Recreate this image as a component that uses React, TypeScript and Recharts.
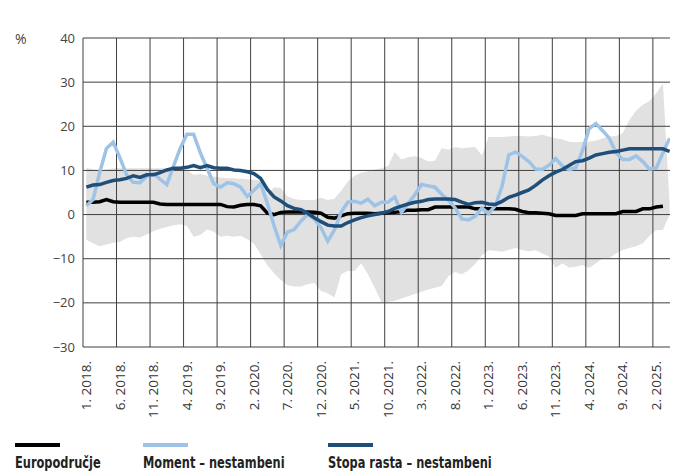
import { ComposedChart, Line, Area, XAxis, YAxis, CartesianGrid } from 'recharts'

// months 1.2018 .. 4.2025 (88 points), x = month index + 0.5 so points sit mid-month
const tickLabels = [
  '1. 2018.', '6. 2018.', '11. 2018.', '4. 2019.', '9. 2019.', '2. 2020.',
  '7. 2020.', '12. 2020.', '5. 2021.', '10. 2021.', '3. 2022.', '8. 2022.',
  '1. 2023.', '6. 2023.', '11. 2023.', '4. 2024.', '9. 2024.', '2. 2025.',
]
const xTicks = [0, 5, 10, 15, 20, 25, 30, 35, 40, 45, 50, 55, 60, 65, 70, 75, 80, 85, 88]
const yTicks = [-30, -20, -10, 0, 10, 20, 30, 40]

const euro = [
  2.8, 2.8, 2.9, 3.4, 2.9, 2.8, 2.8, 2.8, 2.8, 2.8, 2.8, 2.4, 2.3, 2.3, 2.3, 2.3,
  2.3, 2.3, 2.3, 2.3, 2.3, 1.8, 1.7, 2.1, 2.3, 2.3, 2.0, 0.3, 0.0, 0.5, 0.6, 0.6,
  0.6, 0.6, 0.5, 0.3, -0.6, -0.8, -0.3, 0.2, 0.3, 0.3, 0.3, 0.2, 0.3, 0.4, 0.5, 0.7,
  1.0, 1.0, 1.1, 1.1, 1.7, 1.7, 1.7, 1.7, 1.7, 1.7, 1.3, 1.3, 1.3, 1.3, 1.3, 1.3,
  1.2, 0.7, 0.4, 0.4, 0.3, 0.2, -0.2, -0.2, -0.2, -0.2, 0.2, 0.2, 0.2, 0.2, 0.2, 0.2,
  0.7, 0.7, 0.7, 1.3, 1.3, 1.7, 1.9, null,
]
const moment = [
  2.0, 3.4, 9.6, 15.0, 16.4, 12.9, 9.0, 7.3, 7.2, 8.7, 9.3, 8.0, 6.8, 11.0, 15.0, 18.2,
  18.2, 14.0, 10.5, 7.0, 6.2, 7.2, 7.0, 6.2, 4.1, 5.5, 7.0, 2.5, -2.5, -7.0, -4.0, -3.4,
  -1.5, 0.0, -1.0, -3.0, -6.0, -3.5, 0.5, 2.8, 3.0, 2.6, 3.5, 2.0, 2.8, 2.8, 4.0, 0.5,
  2.5, 4.5, 6.8, 6.5, 6.2, 4.6, 3.2, 1.5, -1.0, -1.2, -0.4, 1.5, 0.2, 2.0, 6.4, 13.5,
  14.2, 13.2, 12.0, 10.3, 10.2, 11.2, 12.7, 11.0, 10.2, 10.6, 14.5, 19.5, 20.6, 19.0, 17.3, 14.0,
  12.5, 12.5, 13.3, 12.0, 10.3, 10.5, 14.0, 17.3,
]
const stopa = [
  6.2, 6.7, 6.8, 7.3, 7.7, 7.9, 8.2, 8.8, 8.4, 9.0, 9.0, 9.5, 10.1, 10.5, 10.5, 10.7,
  11.1, 10.6, 11.1, 10.6, 10.5, 10.5, 10.1, 10.0, 9.7, 9.3, 8.2, 5.7, 4.0, 3.1, 2.0, 1.4,
  1.1, 0.3, -0.7, -1.6, -2.4, -2.6, -2.6, -1.8, -1.2, -0.7, -0.3, 0.0, 0.3, 0.7, 1.4, 1.9,
  2.4, 2.8, 3.0, 3.4, 3.5, 3.5, 3.5, 3.4, 2.8, 2.3, 2.7, 2.8, 2.4, 2.3, 3.0, 3.9,
  4.4, 5.0, 5.6, 6.6, 7.8, 8.8, 9.6, 10.2, 11.1, 12.0, 12.2, 12.8, 13.5, 13.8, 14.1, 14.3,
  14.6, 14.9, 14.9, 14.9, 14.9, 14.9, 14.9, 14.3,
]
// grey band: range across countries
const bandHigh = [
  10.6, 10.2, 10.0, 10.2, 10.5, 10.5, 10.5, 10.5, 10.5, 10.5, 10.5, 10.5, 10.5, 10.5, 10.3, 10.1,
  9.0, 9.2, 8.8, 8.6, 8.4, 8.2, 8.2, 8.1, 8.0, 7.9, 7.8, 4.7, 6.2, 6.0, 4.1, 3.5,
  3.3, 3.3, 3.3, 3.8, 3.3, 3.6, 5.4, 7.5, 8.8, 9.5, 9.8, 10.2, 10.5, 11.0, 14.2, 12.5,
  13.0, 13.2, 12.8, 12.0, 12.2, 15.0, 14.7, 15.3, 15.0, 15.2, 15.3, 13.4, 17.6, 17.6, 17.6, 17.7,
  17.8, 17.8, 17.7, 17.8, 18.1, 17.7, 17.3, 17.0, 16.5, 16.4, 16.5, 16.5, 16.8, 17.3, 17.7, 17.8,
  18.5, 21.4, 23.5, 24.9, 25.7, 27.5, 29.7, 2.0,
]
const bandLow = [
  -5.7, -6.5, -7.2, -6.8, -6.4, -6.2, -5.3, -5.0, -5.2, -4.5, -3.8, -3.2, -2.8, -2.4, -2.2, -2.6,
  -5.0, -4.6, -3.4, -3.9, -5.0, -4.8, -5.0, -4.8, -5.6, -6.6, -9.0, -11.5, -13.3, -14.8, -16.0, -16.3,
  -16.3, -15.8, -15.5, -17.3, -17.8, -18.8, -13.5, -12.8, -12.8, -11.0, -13.5, -16.5, -19.8, -19.8, -19.5, -19.0,
  -18.5, -18.0, -17.5, -17.0, -16.6, -16.2, -14.0, -13.0, -13.5, -12.6, -11.2, -9.2, -8.1, -8.2, -8.4, -8.0,
  -7.6, -8.0, -8.3, -8.1, -8.8, -9.5, -12.1, -11.0, -12.0, -11.8, -11.4, -12.1, -11.0, -9.9, -9.9, -8.8,
  -8.0, -7.6, -7.2, -6.5, -4.8, -3.5, -3.5, 0.0,
]

const data = moment.map((m, i) => ({
  x: i + 0.5,
  band: [bandLow[i], bandHigh[i]],
  euro: euro[i],
  moment: m,
  stopa: stopa[i],
}))

const W = 670
const H = 420
const M = { top: 30, right: 5, left: 0, bottom: 0 }
const YW = 75
const XH = 81
const halfMonth = (W - M.right - YW) / 88 / 2

const tickFont = "'Open Sans', 'Noto Sans', sans-serif"
const legendFont = "'DejaVu Sans', sans-serif"

function MonthTick(props: any) {
  const { x, y, payload } = props
  const label = tickLabels[payload.value / 5]
  if (!label) return null
  const cx = x + halfMonth
  const cy = y + 6
  return (
    <text x={cx} y={cy} dy="0.35em" transform={`rotate(-90 ${cx} ${cy})`}
      textAnchor="end" fill="#333" fontSize={13.5} fontFamily={tickFont}>
      {label}
    </text>
  )
}

const legend = [
  { name: 'Europodručje', color: '#000000', left: 7 },
  { name: 'Moment – nestambeni', color: '#9dc3e6', left: 135 },
  { name: 'Stopa rasta – nestambeni', color: '#1f4e79', left: 320 },
]

export default function App() {
  return (
    <div style={{ position: 'relative', width: W, height: 464 }}>
      {/* band layer sits under the grid */}
      <div style={{ position: 'absolute', left: 0, top: 0 }}>
        <ComposedChart width={W} height={H} data={data}
          margin={{ top: M.top, right: M.right, left: YW, bottom: XH }}>
          <XAxis dataKey="x" type="number" domain={[0, 88]} hide />
          <YAxis type="number" domain={[-30, 40]} hide />
          <Area dataKey="band" type="linear" stroke="none" fill="#e1e1e1" fillOpacity={1}
            isAnimationActive={false} />
        </ComposedChart>
      </div>
      <div style={{ position: 'absolute', left: 0, top: 0 }}>
        <ComposedChart width={W} height={H} data={data} margin={M}>
          <CartesianGrid stroke="#3f3f3f" strokeWidth={1} />
          <XAxis dataKey="x" type="number" domain={[0, 88]} ticks={xTicks} interval={0}
            axisLine={false} tickLine={false} height={XH} tick={<MonthTick />} />
          <YAxis type="number" domain={[-30, 40]} ticks={yTicks} interval={0} width={YW}
            axisLine={false} tickLine={false}
            tickFormatter={(v: number) => (v < 0 ? `−${Math.abs(v)}` : `${v}`)}
            tick={{ fill: '#444', fontSize: 13, fontFamily: tickFont }} />
          <Line dataKey="euro" type="linear" stroke="#000000" strokeWidth={3.5} dot={false}
            isAnimationActive={false} />
          <Line dataKey="moment" type="linear" stroke="#9dc3e6" strokeWidth={3.5} dot={false}
            isAnimationActive={false} />
          <Line dataKey="stopa" type="linear" stroke="#1f4e79" strokeWidth={3.5} dot={false}
            isAnimationActive={false} />
        </ComposedChart>
      </div>
      <div style={{ position: 'absolute', left: 7, top: 21, fontSize: 14, color: '#444', fontFamily: tickFont }}>%</div>
      {legend.map((l) => (
        <div key={l.name} style={{ position: 'absolute', left: l.left, top: 435 }}>
          <div style={{ width: 45, height: 4, background: l.color }} />
          <div style={{
            marginTop: 7, fontSize: 15, fontWeight: 700, color: '#222', fontFamily: legendFont,
            whiteSpace: 'nowrap', transform: 'scaleX(0.76)', transformOrigin: 'left center',
          }}>
            {l.name}
          </div>
        </div>
      ))}
    </div>
  )
}
